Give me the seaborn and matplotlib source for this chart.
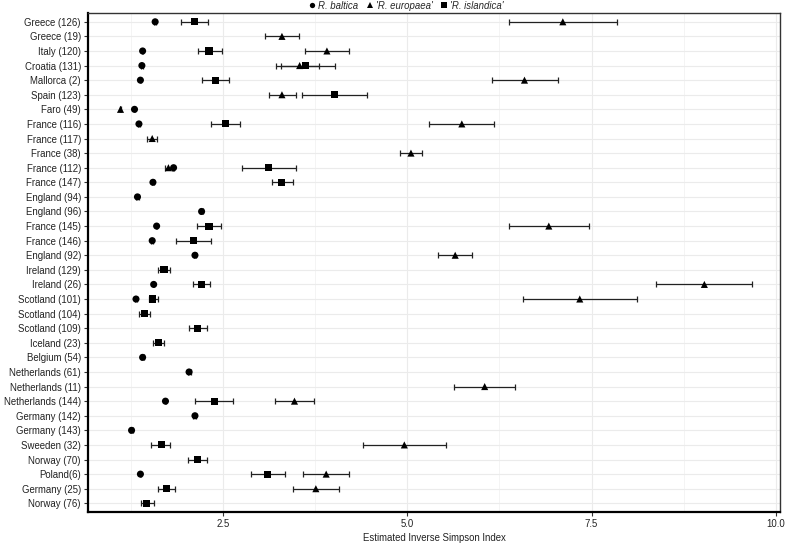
import numpy as np
import pandas as pd
import matplotlib.pyplot as plt
from matplotlib.ticker import MultipleLocator
import seaborn as sns

nan = np.nan

# Sites, top to bottom
sites = ["Greece (126)", "Greece (19)", "Italy (120)", "Croatia (131)", "Mallorca (2)",
         "Spain (123)", "Faro (49)", "France (116)", "France (117)", "France (38)",
         "France (112)", "France (147)", "England (94)", "England (96)", "France (145)",
         "France (146)", "England (92)", "Ireland (129)", "Ireland (26)", "Scotland (101)",
         "Scotland (104)", "Scotland (109)", "Iceland (23)", "Belgium (54)", "Netherlands (61)",
         "Netherlands (11)", "Netherlands (144)", "Germany (142)", "Germany (143)", "Sweeden (32)",
         "Norway (70)", "Poland(6)", "Germany (25)", "Norway (76)"]

# R. baltica
baltica = [1.58, nan, 1.41, 1.40, 1.38, nan, 1.30, 1.36, nan, nan,
           1.83, 1.55, 1.34, 2.21, 1.60, 1.54, 2.12, nan, 1.56, 1.32,
           nan, nan, nan, 1.41, 2.04, nan, 1.72, 2.12, 1.26, nan,
           nan, 1.38, nan, nan]
baltica_lo = [1.57, nan, 1.40, 1.39, 1.37, nan, 1.29, 1.35, nan, nan,
              1.82, 1.54, 1.32, 2.19, 1.59, 1.53, 2.11, nan, 1.55, 1.31,
              nan, nan, nan, 1.39, 2.02, nan, 1.71, 2.10, 1.24, nan,
              nan, 1.37, nan, nan]
baltica_hi = [1.59, nan, 1.42, 1.41, 1.39, nan, 1.31, 1.37, nan, nan,
              1.84, 1.56, 1.36, 2.23, 1.61, 1.55, 2.13, nan, 1.57, 1.33,
              nan, nan, nan, 1.43, 2.06, nan, 1.73, 2.14, 1.28, nan,
              nan, 1.39, nan, nan]

# 'R. europaea'
europaea = [7.11, 3.30, 3.91, 3.54, 6.59, 3.30, 1.11, 5.74, 1.54, 5.05,
            1.76, nan, nan, nan, 6.92, nan, 5.65, nan, 9.03, 7.34,
            nan, nan, nan, nan, nan, 6.05, 3.47, nan, nan, 4.96,
            nan, 3.90, 3.76, nan]
europaea_lo = [6.38, 3.07, 3.61, 3.22, 6.15, 3.13, 1.10, 5.30, 1.47, 4.90,
               1.71, nan, nan, nan, 6.38, nan, 5.42, nan, 8.38, 6.57,
               nan, nan, nan, nan, nan, 5.63, 3.21, nan, nan, 4.40,
               nan, 3.59, 3.45, nan]
europaea_hi = [7.84, 3.53, 4.21, 3.80, 7.04, 3.49, 1.12, 6.18, 1.61, 5.20,
               1.81, nan, nan, nan, 7.46, nan, 5.88, nan, 9.68, 8.12,
               nan, nan, nan, nan, nan, 6.46, 3.73, nan, nan, 5.53,
               nan, 4.21, 4.07, nan]

# 'R. islandica'
islandica = [2.11, nan, 2.31, 3.62, 2.40, 4.01, nan, 2.54, nan, nan,
             3.12, 3.30, nan, nan, 2.31, 2.10, nan, 1.70, 2.21, 1.55,
             1.44, 2.16, 1.62, nan, nan, nan, 2.38, nan, nan, 1.66,
             2.15, 3.11, 1.73, 1.46]
islandica_lo = [1.93, nan, 2.16, 3.29, 2.22, 3.57, nan, 2.34, nan, nan,
                2.76, 3.16, nan, nan, 2.15, 1.86, nan, 1.62, 2.10, 1.49,
                1.36, 2.04, 1.55, nan, nan, nan, 2.12, nan, nan, 1.53,
                2.03, 2.88, 1.62, 1.39]
islandica_hi = [2.30, nan, 2.49, 4.02, 2.58, 4.45, nan, 2.73, nan, nan,
                3.49, 3.45, nan, nan, 2.47, 2.34, nan, 1.78, 2.32, 1.62,
                1.51, 2.29, 1.70, nan, nan, nan, 2.64, nan, nan, 1.78,
                2.29, 3.34, 1.85, 1.56]

species = ["R. baltica", "'R. europaea'", "'R. islandica'"]
markers = {"R. baltica": "o", "'R. europaea'": "^", "'R. islandica'": "s"}

frames = []
for name, v, lo, hi in [(species[0], baltica, baltica_lo, baltica_hi),
                        (species[1], europaea, europaea_lo, europaea_hi),
                        (species[2], islandica, islandica_lo, islandica_hi)]:
    frames.append(pd.DataFrame({"site": sites, "pos": range(len(sites)),
                                "species": name, "value": v, "lo": lo, "hi": hi}))
df = pd.concat(frames).dropna()

sns.set_theme(style="white")
plt.rcParams["font.family"] = ["Liberation Sans", "DejaVu Sans"]

fig, ax = plt.subplots(figsize=(7.85, 5.43), dpi=100)
fig.subplots_adjust(left=0.112, right=0.994, top=0.976, bottom=0.057)

# error bars
for name in species:
    d = df[df["species"] == name]
    ax.errorbar(d["value"], d["pos"],
                xerr=[d["value"] - d["lo"], d["hi"] - d["value"]],
                fmt="none", ecolor="#222222", elinewidth=0.9, capsize=2,
                capthick=0.9, zorder=2)

sns.scatterplot(data=df, x="value", y="pos", style="species", markers=markers,
                style_order=species, color="black", s=26, edgecolor="black",
                linewidth=0, ax=ax, zorder=3)

ax.set_xlim(0.668, 10.06)
ax.set_ylim(len(sites) - 0.4, -0.6)
ax.xaxis.set_minor_locator(MultipleLocator(1.25))
ax.set_xticks([2.5, 5.0, 7.5, 10.0])
ax.set_xticklabels(["2.5", "5.0", "7.5", "10.0"])
ax.set_yticks(range(len(sites)))
ax.set_yticklabels(sites)
ax.grid(True, which="major", color="#EBEBEB", lw=0.8)
ax.grid(True, which="minor", axis="x", color="#F2F2F2", lw=0.6)
ax.set_axisbelow(True)
ax.tick_params(axis="both", which="major", labelsize=6.9, length=3, width=0.8,
               color="#333333", labelcolor="#222222", pad=2, left=True, bottom=True)
ax.tick_params(axis="x", which="minor", length=0)
ax.set_xlabel("Estimated Inverse Simpson Index", fontsize=6.9, color="#222222",
              labelpad=3)
ax.set_ylabel("")

for side in ["left", "bottom"]:
    ax.spines[side].set_linewidth(1.6)
    ax.spines[side].set_color("black")
for side in ["top", "right"]:
    ax.spines[side].set_linewidth(1.0)
    ax.spines[side].set_color("#333333")

sns.move_legend(ax, "lower center", bbox_to_anchor=(0.458, 0.997), ncol=3,
                frameon=False, title=None, fontsize=6.9, handletextpad=0.0,
                columnspacing=0.6, markerscale=0.75, borderaxespad=0.0,
                handlelength=1.2)
for t in ax.get_legend().get_texts():
    t.set_fontstyle("italic")

plt.savefig("out.png", dpi=100)
